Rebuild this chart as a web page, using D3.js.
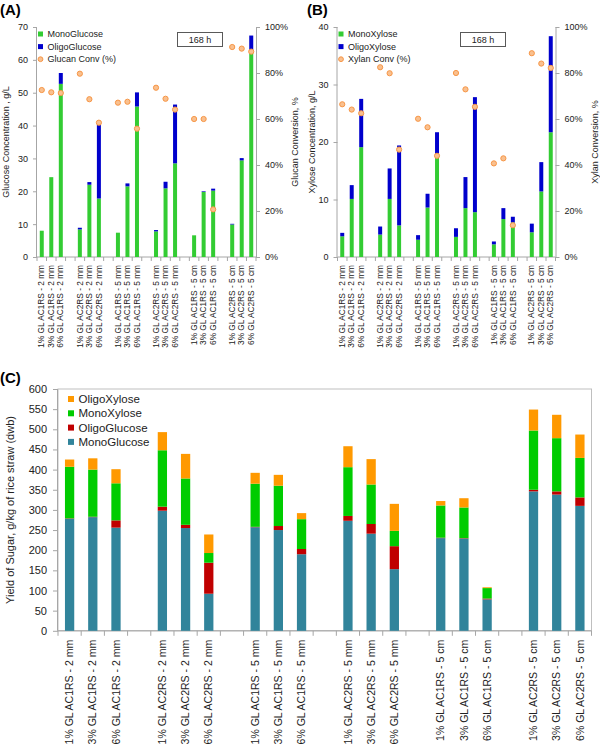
<!DOCTYPE html>
<html><head><meta charset="utf-8">
<script src="https://cdn.jsdelivr.net/npm/d3@7"></script>
<style>
body{margin:0;background:#fff;}
svg{display:block;font-family:"Liberation Sans",Arial,sans-serif;}
.domain{stroke:#a6a6a6;}
.tick line{stroke:#a6a6a6;}
</style></head><body>
<svg id="c" width="600" height="749"></svg>
<script>
// ---- data ----
const categories = ["1% GL AC1RS - 2 mm","3% GL AC1RS - 2 mm","6% GL AC1RS - 2 mm",
 "1% GL AC2RS - 2 mm","3% GL AC2RS - 2 mm","6% GL AC2RS - 2 mm",
 "1% GL AC1RS - 5 mm","3% GL AC1RS - 5 mm","6% GL AC1RS - 5 mm",
 "1% GL AC2RS - 5 mm","3% GL AC2RS - 5 mm","6% GL AC2RS - 5 mm",
 "1% GL AC1RS - 5 cm","3% GL AC1RS - 5 cm","6% GL AC1RS - 5 cm",
 "1% GL AC2RS - 5 cm","3% GL AC2RS - 5 cm","6% GL AC2RS - 5 cm"];
// Panel A (g/L, %)
const monoGlucoseA  = [8.0,24.3,52.7, 8.4,22.0,17.8, 7.4,21.5,45.8, 7.8,20.9,28.5, 6.6,19.8,20.2, 9.9,29.4,63.0];
const oligoGlucoseA = [0.0,0.0,3.3, 0.5,0.8,22.5, 0.0,0.9,4.3, 0.4,2.0,17.9, 0.0,0.2,0.6, 0.2,0.7,4.4];
const glucanConv    = [72.6,71.6,71.3, 79.7,68.6,58.4, 67.1,67.5,55.8, 73.6,68.8,64.1, 60.0,60.0,20.7, 91.3,90.6,89.3];
// Panel B (g/L, %)
const monoXyloseB   = [3.6,10.1,19.1, 3.9,10.1,5.5, 3.0,8.6,17.9, 3.5,8.5,7.8, 2.2,6.6,6.0, 4.3,11.4,21.7];
const oligoXyloseB  = [0.6,2.4,8.4, 1.4,5.3,13.9, 0.8,2.4,3.8, 1.5,5.4,20.0, 0.5,1.9,1.0, 1.5,5.1,16.7];
const xylanConv     = [66.4,64.1,62.5, 82.5,79.9,46.7, 60.1,56.4,44.0, 80.0,72.9,65.3, 40.7,42.9,13.8, 88.6,84.1,82.2];
// Panel C (g/kg)
const monoGlucoseC  = [278,282,256, 298,255,92, 257,250,190, 273,241,153, 230,229,78, 346,338,310];
const oligoGlucoseC = [1,1,18, 10,8,77, 1,10,13, 12,24,57, 1,1,2, 4,8,21];
const monoXyloseC   = [128,117,92, 140,115,24, 107,100,74, 121,98,38, 80,76,26, 147,132,98];
const oligoXyloseC  = [18,28,35, 45,61,46, 27,27,15, 52,63,67, 11,23,2, 52,58,58];
const ticksA = [0,10,20,30,40,50,60,70];
const ticksB = [0,10,20,30,40];
const ticksPct = [0,20,40,60,80,100];
const ticksC = d3.range(0,601,50);

const svg = d3.select("#c");
const FONT = "Liberation Sans, Arial, sans-serif";

// slots: 3 bars per group, then an empty slot
function slotDomain(){
  const s=[];
  categories.forEach((c,i)=>{ s.push(c); if(i%3===2 && i<categories.length-1) s.push("gap"+i); });
  return s;
}

function panelTop(opt){
  const g = svg.append("g");
  const x = d3.scaleBand().domain(slotDomain()).range([opt.x0,opt.x1]).paddingInner(0.58).paddingOuter(0.29);
  const y = d3.scaleLinear().domain([0,opt.ymax]).range([257,27]);
  const yr = d3.scaleLinear().domain([0,100]).range([257,27]);
  const step = (opt.x1-opt.x0)/x.domain().length;
  // bottom axis line + slot ticks
  g.append("line").attr("x1",opt.x0).attr("x2",opt.x1).attr("y1",257).attr("y2",257).attr("stroke","#a6a6a6");
  d3.range(x.domain().length+1).forEach(k=>{
    g.append("line").attr("x1",opt.x0+k*step).attr("x2",opt.x0+k*step).attr("y1",257).attr("y2",261).attr("stroke","#a6a6a6");
  });
  // bars
  const bw = x.bandwidth();
  g.selectAll(".m").data(opt.mono).join("rect")
    .attr("x",(d,i)=>x(categories[i])).attr("width",bw)
    .attr("y",d=>y(d)).attr("height",d=>257-y(d)).attr("fill","#33cc33");
  g.selectAll(".o").data(opt.oligo).join("rect")
    .attr("x",(d,i)=>x(categories[i])).attr("width",bw)
    .attr("y",(d,i)=>y(d+opt.mono[i])).attr("height",(d,i)=>y(opt.mono[i])-y(d+opt.mono[i])).attr("fill","#0000cc");
  // points
  g.selectAll(".p").data(opt.conv).join("circle")
    .attr("cx",(d,i)=>x(categories[i])+bw/2).attr("cy",d=>yr(d)).attr("r",2.6)
    .attr("fill","#f9c08f").attr("stroke","#f79646").attr("stroke-width",1);
  // left axis
  const la = g.append("g").attr("transform",`translate(${opt.x0},0)`)
    .call(d3.axisLeft(y).tickValues(opt.yticks).tickSize(4).tickPadding(5));
  la.selectAll("text").attr("font-size",9).attr("font-family",FONT).attr("fill","#222");
  la.select(".domain").attr("d",`M-0.5,257V27`);
  // right axis
  const ra = g.append("g").attr("transform",`translate(${opt.x1},0)`)
    .call(d3.axisRight(yr).tickValues(ticksPct).tickFormat(d=>d+"%").tickSize(4).tickPadding(5));
  ra.selectAll("text").attr("font-size",9).attr("font-family",FONT).attr("fill","#222");
  ra.select(".domain").attr("d",`M0.5,257V27`);
  // category labels
  const xa = g.append("g").attr("transform","translate(0,257)")
    .call(d3.axisBottom(x).tickValues(categories).tickSize(0).tickPadding(0));
  xa.select(".domain").remove();
  xa.selectAll("text").attr("font-size",8.3).attr("font-family",FONT).attr("fill","#222")
    .attr("text-anchor","end").attr("dy","0.32em").attr("transform","translate(0,8) rotate(-90)").attr("x",0).attr("y",0);
  // titles
  g.append("text").attr("transform",`translate(${opt.ytx},142) rotate(-90)`).attr("text-anchor","middle")
    .attr("font-size",9).attr("font-family",FONT).attr("fill","#222").text(opt.ytitle);
  g.append("text").attr("transform",`translate(${opt.x1+42},142) rotate(-90)`).attr("text-anchor","middle")
    .attr("font-size",9).attr("font-family",FONT).attr("fill","#222").text(opt.rtitle);
  g.append("text").attr("x",opt.lx).attr("y",15).attr("font-size",15).attr("font-weight","bold")
    .attr("font-family",FONT).attr("fill","#000").text(opt.letter);
  // 168 h box
  g.append("rect").attr("x",opt.boxX).attr("y",32.5).attr("width",45).attr("height",14)
    .attr("fill","#fff").attr("stroke","#595959");
  g.append("text").attr("x",opt.boxX+22.5).attr("y",42.5).attr("text-anchor","middle")
    .attr("font-size",9).attr("font-family",FONT).attr("fill","#222").text("168 h");
  // legend
  const lx = opt.x0+1;
  opt.legend.forEach((it,k)=>{
    const cy = 34+k*12.6;
    if(it.type==="rect") g.append("rect").attr("x",lx).attr("y",cy-2.5).attr("width",5).attr("height",5).attr("fill",it.color);
    else g.append("circle").attr("cx",lx+2.5).attr("cy",cy).attr("r",2.4).attr("fill","#f9c08f").attr("stroke","#f79646");
    g.append("text").attr("x",lx+9.5).attr("y",cy+3.2).attr("font-size",9).attr("font-family",FONT).attr("fill","#222").text(it.name);
  });
}

panelTop({x0:37,x1:256,ymax:70,yticks:ticksA,mono:monoGlucoseA,oligo:oligoGlucoseA,conv:glucanConv,ytx:9,lx:0,
  ytitle:"Glucose Concentration , g/L",rtitle:"Glucan Conversion, %",letter:"(A)",boxX:177.5,
  legend:[{name:"MonoGlucose",type:"rect",color:"#33cc33"},{name:"OligoGlucose",type:"rect",color:"#0000cc"},{name:"Glucan Conv (%)",type:"circ"}]});
panelTop({x0:337.5,x1:555.5,ymax:40,yticks:ticksB,mono:monoXyloseB,oligo:oligoXyloseB,conv:xylanConv,ytx:315,lx:307,
  ytitle:"Xylose Concentration, g/L",rtitle:"Xylan Conversion, %",letter:"(B)",boxX:460.5,
  legend:[{name:"MonoXylose",type:"rect",color:"#33cc33"},{name:"OligoXylose",type:"rect",color:"#0000cc"},{name:"Xylan Conv (%)",type:"circ"}]});

// ---- Panel C ----
(function(){
  const g = svg.append("g");
  const x0=58, x1=591.5, yTop=389, yBot=630.8;
  const x = d3.scaleBand().domain(slotDomain()).range([x0,x1]).paddingInner(0.6).paddingOuter(0.3);
  const y = d3.scaleLinear().domain([0,600]).range([yBot,yTop]);
  const step=(x1-x0)/x.domain().length;
  g.append("rect").attr("x",x0).attr("y",yTop).attr("width",x1-x0).attr("height",yBot-yTop).attr("fill","none").attr("stroke","#bfbfbf");
  g.append("line").attr("x1",x0).attr("x2",x1).attr("y1",yBot).attr("y2",yBot).attr("stroke","#a6a6a6");
  d3.range(x.domain().length+1).forEach(k=>{
    g.append("line").attr("x1",x0+k*step).attr("x2",x0+k*step).attr("y1",yBot).attr("y2",yBot+5).attr("stroke","#a6a6a6");
  });
  const series=[
    {name:"MonoGlucose",vals:monoGlucoseC,color:"#31849b"},
    {name:"OligoGlucose",vals:oligoGlucoseC,color:"#c00000"},
    {name:"MonoXylose",vals:monoXyloseC,color:"#00cc00"},
    {name:"OligoXylose",vals:oligoXyloseC,color:"#ff9900"}];
  const rows = categories.map((c,i)=>{const r={cat:c}; series.forEach(s=>r[s.name]=s.vals[i]); return r;});
  const stack = d3.stack().keys(series.map(s=>s.name))(rows);
  stack.forEach((layer,k)=>{
    g.selectAll(null).data(layer).join("rect")
      .attr("x",d=>x(d.data.cat)).attr("width",x.bandwidth())
      .attr("y",d=>y(d[1])).attr("height",d=>y(d[0])-y(d[1])).attr("fill",series[k].color);
  });
  const la = g.append("g").attr("transform",`translate(${x0},0)`)
    .call(d3.axisLeft(y).tickValues(ticksC).tickSize(5).tickPadding(6));
  la.selectAll("text").attr("font-size",11).attr("font-family",FONT).attr("fill","#222");
  la.select(".domain").attr("d",`M-0.5,${yBot}V${yTop}`);
  const xa = g.append("g").attr("transform",`translate(0,${yBot})`)
    .call(d3.axisBottom(x).tickValues(categories).tickSize(0).tickPadding(0));
  xa.select(".domain").remove();
  xa.selectAll("text").attr("font-size",10.5).attr("font-family",FONT).attr("fill","#222")
    .attr("text-anchor","end").attr("dy","0.35em").attr("transform","translate(0,9) rotate(-90)").attr("x",0).attr("y",0);
  g.append("text").attr("transform",`translate(14,510) rotate(-90)`).attr("text-anchor","middle")
    .attr("font-size",11).attr("font-family",FONT).attr("fill","#222").text("Yield of Sugar, g/kg of rice straw (dwb)");
  g.append("text").attr("x",0).attr("y",383).attr("font-size",15).attr("font-weight","bold")
    .attr("font-family",FONT).attr("fill","#000").text("(C)");
  series.slice().reverse().forEach((s,k)=>{
    const cy=399+k*14.3;
    g.append("rect").attr("x",68).attr("y",cy-3).attr("width",6).attr("height",6).attr("fill",s.color);
    g.append("text").attr("x",78.5).attr("y",cy+4).attr("font-size",11.5).attr("font-family",FONT).attr("fill","#222").text(s.name);
  });
})();
</script></body></html>
